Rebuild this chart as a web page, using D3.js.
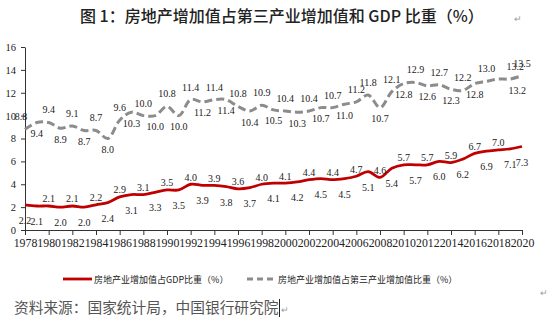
<!DOCTYPE html>
<html>
<head>
<meta charset="utf-8">
<script src="https://cdn.jsdelivr.net/npm/d3@7/dist/d3.min.js"></script>
<style>
  html, body { margin: 0; padding: 0; background: #fff; }
  svg { display: block; }
</style>
</head>
<body>
<svg id="chart" width="550" height="326"></svg>
<script>
// Years on the category axis
const years = d3.range(1978, 2021);

// 房地产业增加值占GDP比重（%）
const gdpShare = [2.2, 2.1, 2.1, 2.0, 2.1, 2.0, 2.2, 2.4, 2.9, 3.1,
                  3.1, 3.3, 3.5, 3.5, 4.0, 3.9, 3.9, 3.8, 3.6, 3.7,
                  4.0, 4.1, 4.1, 4.2, 4.4, 4.5, 4.4, 4.5, 4.7, 5.1,
                  4.6, 5.4, 5.7, 5.7, 5.7, 6.0, 5.9, 6.2, 6.7, 6.9,
                  7.0, 7.1, 7.3];

// 房地产业增加值占第三产业增加值比重（%）
const tertiaryShare = [8.8, 9.4, 9.4, 8.9, 9.1, 8.7, 8.7, 8.0, 9.6, 10.3,
                       10.0, 10.0, 10.8, 10.0, 11.4, 11.2, 11.4, 11.4, 10.8, 10.4,
                       10.9, 10.5, 10.4, 10.3, 10.4, 10.7, 10.7, 11.0, 11.2, 11.8,
                       10.7, 12.1, 12.8, 12.9, 12.6, 12.7, 12.3, 12.2, 12.8, 13.0,
                       13.2, 13.2, 13.5];

const yTicks = [0, 2, 4, 6, 8, 10, 12, 14, 16];
const xTickYears = d3.range(1978, 2021, 2);

const seriesNames = ["房地产业增加值占GDP比重（%）", "房地产业增加值占第三产业增加值比重（%）"];
const titleText = "图 1：房地产增加值占第三产业增加值和 GDP 比重（%）";
const sourceText = "资料来源：国家统计局，中国银行研究院";

// Which side of the line each value label sits on (a = above, b = below)
const gdpLabelSide      = "bb" + "ab".repeat(20) + "b";
const tertiaryLabelSide = "ab".repeat(14) + "aababababab" + "aaba";

const svg = d3.select("#chart");
const serif = "'Liberation Serif', 'Times New Roman', serif";
const cjk = "'Noto Sans CJK SC', sans-serif";

const x = d3.scaleLinear().domain([1978, 2020]).range([25, 522]);
const y = d3.scaleLinear().domain([0, 16]).range([230, 47]);

// Title
svg.append("text")
  .attr("x", 80).attr("y", 22)
  .attr("font-family", cjk).attr("font-size", 16).attr("font-weight", 500)
  .attr("fill", "#222")
  .text(titleText);
svg.append("text")
  .attr("x", 514).attr("y", 22)
  .attr("font-family", serif).attr("font-size", 9).attr("fill", "#999")
  .text("↵");

// Y axis
const yAxis = svg.append("g")
  .attr("transform", `translate(${x.range()[0]},0)`)
  .call(d3.axisLeft(y).tickValues(yTicks).tickSize(4).tickSizeOuter(0).tickPadding(5));
yAxis.select(".domain").attr("stroke", "#333");
yAxis.selectAll(".tick line").attr("stroke", "#333");
yAxis.selectAll(".tick text")
  .attr("font-family", serif).attr("font-size", 10.5).attr("fill", "#222");

// X axis
const xAxis = svg.append("g")
  .attr("transform", `translate(0,${y(0)})`)
  .call(d3.axisBottom(x).tickValues(xTickYears).tickFormat(d3.format("d"))
        .tickSize(5).tickSizeOuter(0).tickPadding(4));
xAxis.select(".domain").attr("stroke", "#333");
xAxis.selectAll(".tick line").attr("stroke", "#333");
xAxis.selectAll(".tick text")
  .attr("font-family", serif).attr("font-size", 11.8).attr("fill", "#222");

// Lines
const line = d3.line()
  .x((d, i) => x(years[i]))
  .y(d => y(d))
  .curve(d3.curveCatmullRom.alpha(0.5));

svg.append("path")
  .datum(tertiaryShare)
  .attr("fill", "none")
  .attr("stroke", "#8c8c8c")
  .attr("stroke-width", 3)
  .attr("stroke-dasharray", "8,4")
  .attr("d", line);

svg.append("path")
  .datum(gdpShare)
  .attr("fill", "none")
  .attr("stroke", "#c00000")
  .attr("stroke-width", 2.8)
  .attr("d", line);

// Value labels (a few are nudged sideways where they crowd)
const tertiaryNudge = { 1978: -4, 2018: 17, 2019: 7 };

function drawLabels(values, sides, aboveDy, belowDy, nudges) {
  svg.append("g").selectAll("text")
    .data(values)
    .join("text")
    .attr("x", (d, i) => x(years[i]) + (nudges[years[i]] || 0))
    .attr("y", (d, i) => y(d) + (sides[i] === "a" ? aboveDy : belowDy))
    .attr("text-anchor", "middle")
    .attr("font-family", serif).attr("font-size", 10).attr("fill", "#222")
    .text(d => d.toFixed(1));
}
drawLabels(tertiaryShare, tertiaryLabelSide, -9, 14.5, tertiaryNudge);
drawLabels(gdpShare, gdpLabelSide, -3.5, 19, {});

// Legend
const legendY = 279;
svg.append("line")
  .attr("x1", 63).attr("x2", 92).attr("y1", legendY).attr("y2", legendY)
  .attr("stroke", "#c00000").attr("stroke-width", 2.8);
svg.append("text")
  .attr("x", 94).attr("y", legendY + 3.5)
  .attr("font-family", cjk).attr("font-size", 9).attr("fill", "#222")
  .text(seriesNames[0]);
svg.append("line")
  .attr("x1", 247).attr("x2", 275).attr("y1", legendY).attr("y2", legendY)
  .attr("stroke", "#8c8c8c").attr("stroke-width", 3).attr("stroke-dasharray", "6,4");
svg.append("text")
  .attr("x", 278).attr("y", legendY + 3.5)
  .attr("font-family", cjk).attr("font-size", 9).attr("fill", "#222")
  .text(seriesNames[1]);
svg.append("text")
  .attr("x", 540).attr("y", 296)
  .attr("font-family", serif).attr("font-size", 9).attr("fill", "#999")
  .text("↵");

// Source note
svg.append("text")
  .attr("x", 14).attr("y", 313)
  .attr("font-family", cjk).attr("font-size", 14.7).attr("fill", "#555")
  .text(sourceText);
svg.append("line")
  .attr("x1", 279.5).attr("x2", 279.5).attr("y1", 299).attr("y2", 317)
  .attr("stroke", "#222").attr("stroke-width", 1);
svg.append("text")
  .attr("x", 281).attr("y", 313)
  .attr("font-family", serif).attr("font-size", 9).attr("fill", "#999")
  .text("↵");
</script>
</body>
</html>
